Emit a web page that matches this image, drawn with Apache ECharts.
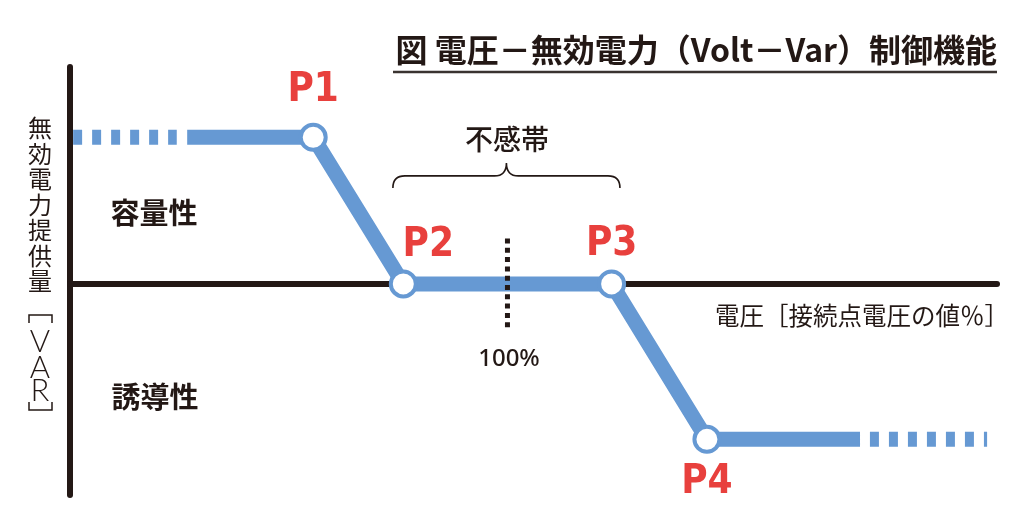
<!DOCTYPE html>
<html>
<head>
<meta charset="utf-8">
<script src="https://cdn.jsdelivr.net/npm/echarts@6/dist/echarts.min.js"></script>
<style>
  html, body { margin: 0; padding: 0; background: #fff; }
  #chart { width: 1024px; height: 531px; }
</style>
</head>
<body>
<div id="chart"></div>
<script>
// データ（読み取り値）
const pointNames = ['P1', 'P2', 'P3', 'P4'];
const pointVoltage = [96.27, 98.0, 102.0, 103.83];
const pointVar = [1, 0, 0, -1.06];
const solidStart = [93.85, 1];
const solidEnd = [106.77, -1.06];
const dashLeft = [[91.66, 1], [93.65, 1]];
const dashRight = [[106.96, -1.06], [109.21, -1.06]];
const deadBand = [97.8, 102.16];
const nominalVoltage = 100;
const nominalMark = [0.31, -0.31];

const BLUE = '#6699d3';
const RED = '#e8403d';
const INK = '#231815';
const CJK = '"Noto Sans CJK JP", "Noto Sans", sans-serif';

// P ラベルの位置
const labelOffsets = [[0, -47], [25, -38], [0, -39], [0, 43]];

const curveData = [solidStart];
pointNames.forEach((n, i) => {
  curveData.push({
    name: n,
    value: [pointVoltage[i], pointVar[i]],
    symbol: 'circle',
    label: { show: true, offset: labelOffsets[i] },
  });
});
curveData.push(solidEnd);

// 縦軸ラベル
const yLabelChars = ['無', '効', '電', '力', '提', '供', '量'];
const yLabelElems = yLabelChars.map((c, i) => ({
  type: 'text', x: 40, y: 128 + i * 25.5,
  style: { text: c, fontSize: 24, fontFamily: CJK, fill: INK, align: 'center', verticalAlign: 'middle' },
}));
['V', 'A', 'R'].forEach((c, i) => {
  yLabelElems.push({
    type: 'text', x: 40, y: [342, 368, 391][i],
    style: { text: c, fontSize: 31, fontFamily: 'Lato', fontWeight: 300, fill: INK, align: 'center', verticalAlign: 'middle' },
  });
});
yLabelElems.push(
  { type: 'polyline', shape: { points: [[29, 323], [29, 315], [52, 315], [52, 323]] }, style: { stroke: INK, lineWidth: 1.5, fill: 'none' } },
  { type: 'polyline', shape: { points: [[29, 402], [29, 410], [52, 410], [52, 402]] }, style: { stroke: INK, lineWidth: 1.5, fill: 'none' } }
);

const option = {
  backgroundColor: '#fff',
  animation: false,
  grid: { left: 70, right: 27, top: 67, bottom: 36 },
  xAxis: {
    type: 'value',
    min: 91.6,
    max: 109.4,
    axisLine: { show: true, onZero: true, lineStyle: { color: INK, width: 6 } },
    axisTick: { show: false },
    axisLabel: { show: false },
    splitLine: { show: false },
  },
  yAxis: {
    type: 'value',
    min: -1.44,
    max: 1.48,
    axisLine: { show: true, lineStyle: { color: INK, width: 6 } },
    axisTick: { show: false },
    axisLabel: { show: false },
    splitLine: { show: false },
  },
  graphic: [
    {
      type: 'text', x: 997, y: 50,
      style: { text: '図 電圧－無効電力（Volt－Var）制御機能', fontSize: 32, fontWeight: 'bold', fontFamily: CJK, fill: INK, align: 'right', verticalAlign: 'middle' },
    },
    { type: 'line', shape: { x1: 393, y1: 72, x2: 997, y2: 72 }, style: { stroke: '#3a3330', lineWidth: 2.5 } },
    {
      type: 'text', x: 154, y: 213,
      style: { text: '容量性', fontSize: 29, fontWeight: 'bold', fontFamily: CJK, fill: INK, align: 'center', verticalAlign: 'middle' },
    },
    {
      type: 'text', x: 155, y: 397,
      style: { text: '誘導性', fontSize: 29, fontWeight: 'bold', fontFamily: CJK, fill: INK, align: 'center', verticalAlign: 'middle' },
    },
    {
      type: 'text', x: 507, y: 139,
      style: { text: '不感帯', fontSize: 28, fontWeight: 500, fontFamily: CJK, fill: INK, align: 'center', verticalAlign: 'middle' },
    },
    {
      type: 'text', x: 509, y: 359,
      style: { text: '100%', fontSize: 24, fontWeight: 500, fontFamily: '"Noto Sans", sans-serif', fill: INK, align: 'center', verticalAlign: 'middle' },
    },
    {
      type: 'text', x: 1009, y: 316,
      style: { text: '電圧［接続点電圧の値％］', fontSize: 24.5, fontFamily: CJK, fill: INK, align: 'right', verticalAlign: 'middle' },
    },
  ].concat(yLabelElems),
  series: [
    {
      type: 'line',
      data: dashLeft,
      symbol: 'none',
      lineStyle: { color: BLUE, width: 15, type: [9, 10], cap: 'butt' },
      z: 3,
    },
    {
      type: 'line',
      data: dashRight,
      symbol: 'none',
      lineStyle: { color: BLUE, width: 15, type: [9, 10], cap: 'butt' },
      z: 3,
    },
    {
      type: 'line',
      data: curveData,
      symbol: 'none',
      symbolSize: 25,
      showAllSymbol: true,
      itemStyle: { color: '#fff', borderColor: BLUE, borderWidth: 4 },
      lineStyle: { color: BLUE, width: 15, cap: 'butt', join: 'round' },
      label: {
        show: false,
        position: 'inside',
        formatter: (p) => p.name,
        color: RED,
        fontSize: 40,
        fontWeight: 'bold',
        fontFamily: '"Liberation Sans Narrow", "DejaVu Sans Condensed", "Liberation Sans", sans-serif',
        align: 'center',
        verticalAlign: 'middle',
      },
      z: 4,
    },
    {
      type: 'line',
      data: [[nominalVoltage, nominalMark[0]], [nominalVoltage, nominalMark[1]]],
      symbol: 'none',
      lineStyle: { color: INK, width: 5, type: [5, 4.3], cap: 'butt' },
      z: 5,
    },
    {
      type: 'custom',
      data: [[deadBand[0], deadBand[1], 0.737]],
      renderItem: (params, api) => {
        const a = api.coord([api.value(0), api.value(2)]);
        const b = api.coord([api.value(1), api.value(2)]);
        const y = a[1];
        const x1 = a[0], x2 = b[0], m = (x1 + x2) / 2;
        const r = 12;
        const d = `M${x1} ${y + r} Q${x1} ${y} ${x1 + r} ${y} L${m - r} ${y} Q${m} ${y} ${m} ${y - r - 1} ` +
          `Q${m} ${y} ${m + r} ${y} L${x2 - r} ${y} Q${x2} ${y} ${x2} ${y + r}`;
        return {
          type: 'path',
          shape: { pathData: d },
          style: { fill: 'none', stroke: INK, lineWidth: 1.6 },
        };
      },
      z: 5,
    },
  ],
};

const chart = echarts.init(document.getElementById('chart'));
chart.setOption(option);
</script>
</body>
</html>
